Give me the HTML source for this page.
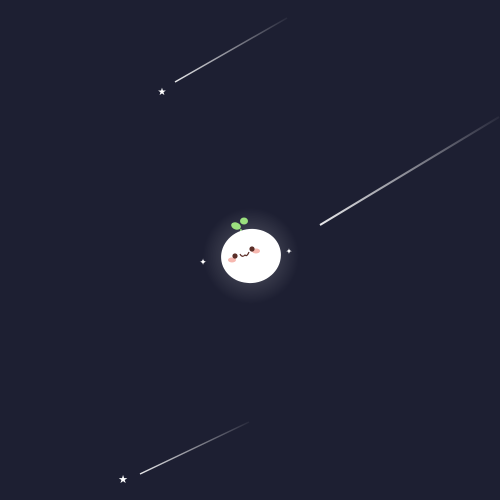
<!DOCTYPE html>
<html><head><style>
html,body{margin:0;padding:0;background:#1d1f32;width:500px;height:500px;overflow:hidden}
</style></head><body>
<svg width="500" height="500" viewBox="0 0 500 500">
<defs>
<radialGradient id="glow" cx="0.5" cy="0.5" r="0.5">
<stop offset="0" stop-color="#ffffff" stop-opacity="0.5"/>
<stop offset="0.55" stop-color="#ffffff" stop-opacity="0.12"/>
<stop offset="1" stop-color="#ffffff" stop-opacity="0"/>
</radialGradient>
<linearGradient id="s1" x1="0" y1="1" x2="1" y2="0"><stop offset="0" stop-color="#fff" stop-opacity="0.9"/><stop offset="1" stop-color="#fff" stop-opacity="0.05"/></linearGradient>
</defs>
<rect width="500" height="500" fill="#1d1f32"/>
<line x1="175" y1="82" x2="287" y2="18" stroke="url(#s1)" stroke-width="1.5"/>
<line x1="320" y1="225" x2="499" y2="117" stroke="url(#s1)" stroke-width="2"/>
<line x1="140" y1="474" x2="249" y2="422" stroke="url(#s1)" stroke-width="1.5"/>
<text x="162" y="95" font-size="10" fill="#fff" text-anchor="middle" font-family="DejaVu Sans, sans-serif">★</text>
<text x="123" y="483" font-size="11" fill="#fff" text-anchor="middle" font-family="DejaVu Sans, sans-serif">★</text>
<circle cx="251" cy="256" r="48" fill="url(#glow)"/>
<path d="M240,243 Q240,236 241,229" stroke="#8fd67a" stroke-width="1.5" fill="none"/>
<ellipse cx="236" cy="226" rx="5" ry="3.5" fill="#9be07e" transform="rotate(20 236 226)"/>
<ellipse cx="244" cy="221" rx="4" ry="3.5" fill="#9be07e"/>
<ellipse cx="251" cy="256" rx="30" ry="27" fill="#ffffff" transform="rotate(-10 251 256)"/>
<ellipse cx="232" cy="260" rx="4" ry="2.5" fill="#f6b8b0"/>
<ellipse cx="256" cy="251" rx="4" ry="2.5" fill="#f6b8b0"/>
<circle cx="235" cy="256" r="2.6" fill="#5a2e28"/>
<circle cx="252" cy="249" r="2.6" fill="#5a2e28"/>
<path d="M240,254 Q242,258 245,255 Q247,257 249,252" stroke="#5a2e28" stroke-width="1.2" fill="none"/>
<text x="203" y="265" font-size="9" fill="#fff" text-anchor="middle" font-family="DejaVu Sans, sans-serif">✦</text>
<text x="289" y="254" font-size="8" fill="#fff" text-anchor="middle" font-family="DejaVu Sans, sans-serif">✦</text>
</svg>
</body></html>
